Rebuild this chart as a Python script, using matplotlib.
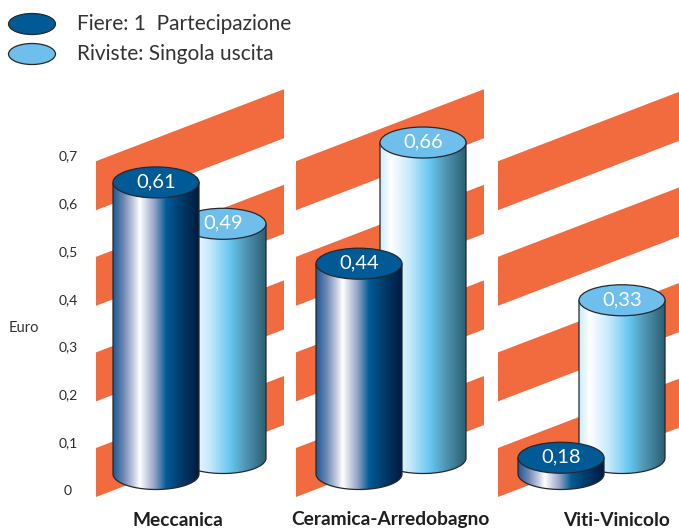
"""
Costo per contatto: Fiere vs Riviste, cilindri pseudo-3D su bande oblique.
"""
import numpy as np
import matplotlib
matplotlib.use("Agg")
import matplotlib.pyplot as plt
from matplotlib.colors import LinearSegmentedColormap
from matplotlib.patches import Ellipse, PathPatch, Polygon
from matplotlib.path import Path

plt.rcParams["font.family"] = ["Lato", "DejaVu Sans"]

categories = ["Meccanica", "Ceramica-Arredobagno", "Viti-Vinicolo"]
fiere_labels = ["0,61", "0,44", "0,18"]
riviste_labels = ["0,49", "0,66", "0,33"]
# drawn heights (the 0,18 cylinder is drawn much shorter than its label)
fiere_heights = [0.61, 0.44, 0.034]
riviste_heights = [0.49, 0.66, 0.33]
tick_values = [0, 0.1, 0.2, 0.3, 0.4, 0.5, 0.6, 0.7]
tick_labels = ["0", "0,1", "0,2", "0,3", "0,4", "0,5", "0,6", "0,7"]
band_levels = [0, 0.2, 0.4, 0.6]

W, H = 679, 530
PX = 478.0  # pixels per euro
Y0 = 490  # pixel row of the value 0
BAR_W = 86
ELL_H = 31 / PX
FRONT_BASE = 16 / PX
BACK_BASE = 32 / PX

front_x = [156, 359, 561]
back_x = [223, 423, 622]
band_x = [96, 296, 498]
label_x = [178, 390, 617]

ORANGE = "#f26b3f"
DARK_TOP = "#005a96"
LIGHT_TOP = "#6fbfec"
EDGE = "#26282c"

dark_cmap = LinearSegmentedColormap.from_list("dark", [
    (0.0, "#1d5a92"), (0.12, "#6c86b2"), (0.24, "#c5cde0"), (0.31, "#ffffff"),
    (0.48, "#98a5c8"), (0.62, "#005b96"), (0.8, "#003a68"), (1.0, "#001b40")])
light_cmap = LinearSegmentedColormap.from_list("light", [
    (0.0, "#c8ecfa"), (0.12, "#ffffff"), (0.35, "#c5e9fa"), (0.58, "#66c8f2"),
    (0.75, "#5199b8"), (1.0, "#2c5f72")])


def cylinder(ax, x, base, height, cmap, top_color, label, z):
    left, right = x - BAR_W / 2, x + BAR_W / 2
    top = base + height
    b = ELL_H / 2
    # outline of body: top edge straight through the cap centre, bottom half ellipse
    theta = np.linspace(np.pi, 2 * np.pi, 60)
    xs = x + BAR_W / 2 * np.cos(theta)
    ys = base + b * np.sin(theta)
    verts = [(left, top)] + list(zip(xs, ys)) + [(right, top), (left, top)]
    body = PathPatch(Path(verts), facecolor="none", edgecolor=EDGE, lw=0.9, zorder=z + 0.1)
    ax.add_patch(body)
    grad = np.linspace(0, 1, 256).reshape(1, -1)
    im = ax.imshow(grad, cmap=cmap, extent=[left, right, base - b, top], aspect="auto", zorder=z)
    im.set_clip_path(body)
    ax.add_patch(Ellipse((x, top), BAR_W, ELL_H, facecolor=top_color, edgecolor=EDGE, lw=0.9, zorder=z + 0.2))
    ax.text(x, top + 0.001, label, color="white", fontsize=14.5, ha="center", va="center", zorder=z + 0.3)


fig = plt.figure(figsize=(W / 100, H / 100), dpi=100)
ax = fig.add_axes([0, 0, 1, 1])

# oblique orange bands behind each group
for bx in band_x:
    for lev in band_levels:
        low = lev - 7 / PX
        high = lev + 42 / PX
        rise = 72 / PX
        ax.add_patch(Polygon([(bx, low), (bx, high), (bx + 188, high + rise), (bx + 188, low + rise)],
                             closed=True, facecolor=ORANGE, edgecolor="none", zorder=1))

for i in range(len(categories)):
    cylinder(ax, back_x[i], BACK_BASE, riviste_heights[i], light_cmap, LIGHT_TOP, riviste_labels[i], 2)
    cylinder(ax, front_x[i], FRONT_BASE, fiere_heights[i], dark_cmap, DARK_TOP, fiere_labels[i], 3)
    ax.text(label_x[i], -30 / PX, categories[i], fontsize=13.8, fontweight="bold", color="#1f1f1f",
            ha="center", va="center")

# legend
for yy, col, txt in [(Y0 - 24, DARK_TOP, "Fiere: 1  Partecipazione"), (Y0 - 54, LIGHT_TOP, "Riviste: Singola uscita")]:
    ax.add_patch(Ellipse((32, yy / PX), 47, 21 / PX, facecolor=col, edgecolor=EDGE, lw=0.9))
    ax.text(77, yy / PX, txt, fontsize=15, color="#333333", ha="left", va="center")

ax.text(23.5, (Y0 - 328) / PX, "Euro", fontsize=10.5, color="#333333", ha="center", va="center")

ax.set_xlim(0, W)
ax.set_ylim((Y0 - H) / PX, Y0 / PX)
ax.spines["left"].set_position(("data", 68))
for name, sp in ax.spines.items():
    sp.set_visible(False)
ax.set_xticks([])
ax.set_yticks(tick_values)
ax.set_yticklabels(tick_labels, ha="center", fontsize=10, color="#2a2a2a")
ax.tick_params(axis="y", length=0, pad=0)
ax.patch.set_visible(False)

fig.savefig("out.png", dpi=100, facecolor="white")
